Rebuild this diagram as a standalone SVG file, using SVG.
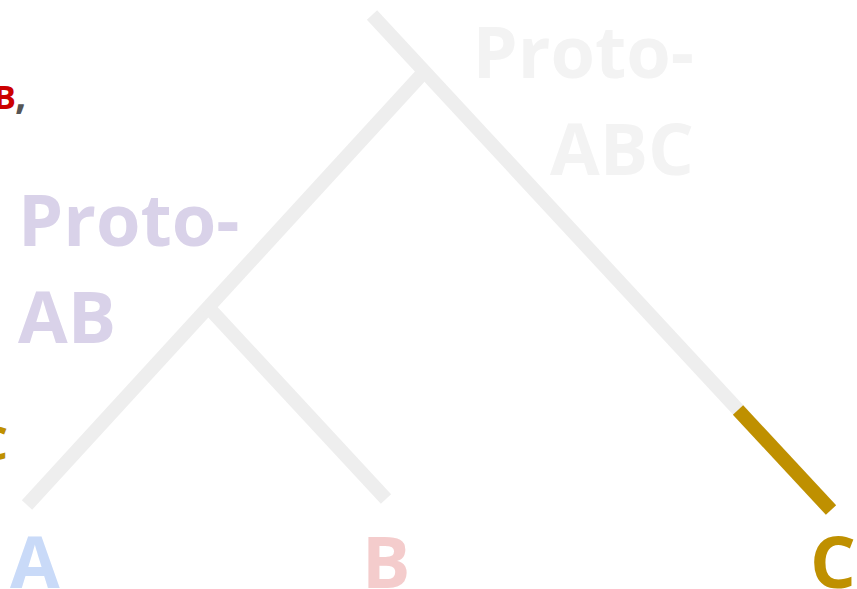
<svg xmlns="http://www.w3.org/2000/svg" width="857" height="589" viewBox="0 0 857 589">
  <style>
    .lbl { font-family: "Open Sans", "Noto Sans", "Liberation Sans", sans-serif; font-weight: 700; }
    .big { font-size: 72px; }
    .small { font-size: 33px; }
    .edge { stroke: #eeeeee; stroke-width: 14; stroke-linecap: butt; fill: none; }
    .edge-c { stroke: #bf9000; stroke-width: 14; stroke-linecap: butt; fill: none; }
  </style>
  <rect width="857" height="589" fill="#ffffff"/>

  <!-- tree branches -->
  <g id="connectors">
    <line class="edge" x1="372" y1="15" x2="831" y2="510"/>
    <line class="edge" x1="27" y1="505" x2="424" y2="72"/>
    <line class="edge" x1="208" y1="307" x2="386" y2="499"/>
    <line class="edge-c" x1="738" y1="410" x2="831" y2="510"/>
  </g>

  <!-- caption fragments at the left edge -->
  <g id="caption">
    <text class="lbl small" x="16" y="109" text-anchor="end" fill="#cc0000">B</text>
    <text class="lbl" x="15" y="109" font-size="40" fill="#555555">,</text>
    <text class="lbl" x="8" y="460" font-size="46" text-anchor="end" fill="#bf9000">C</text>
  </g>

  <g id="proto-abc">
    <text class="lbl big" x="694" y="78" text-anchor="end" fill="#f3f3f3">Proto-</text>
    <text class="lbl big" x="694" y="175" text-anchor="end" fill="#f3f3f3">ABC</text>
  </g>

  <g id="proto-ab">
    <text class="lbl big" x="18" y="246" fill="#d9d2e9">Proto-</text>
    <text class="lbl big" x="18" y="343" fill="#d9d2e9">AB</text>
  </g>

  <g id="leaf-a">
    <text class="lbl big" x="10" y="588" fill="#c9daf8">A</text>
  </g>
  <g id="leaf-b">
    <text class="lbl big" x="362" y="588" fill="#f4cccc">B</text>
  </g>
  <g id="leaf-c">
    <text class="lbl big" x="810" y="588" fill="#bf9000">C</text>
  </g>
</svg>
